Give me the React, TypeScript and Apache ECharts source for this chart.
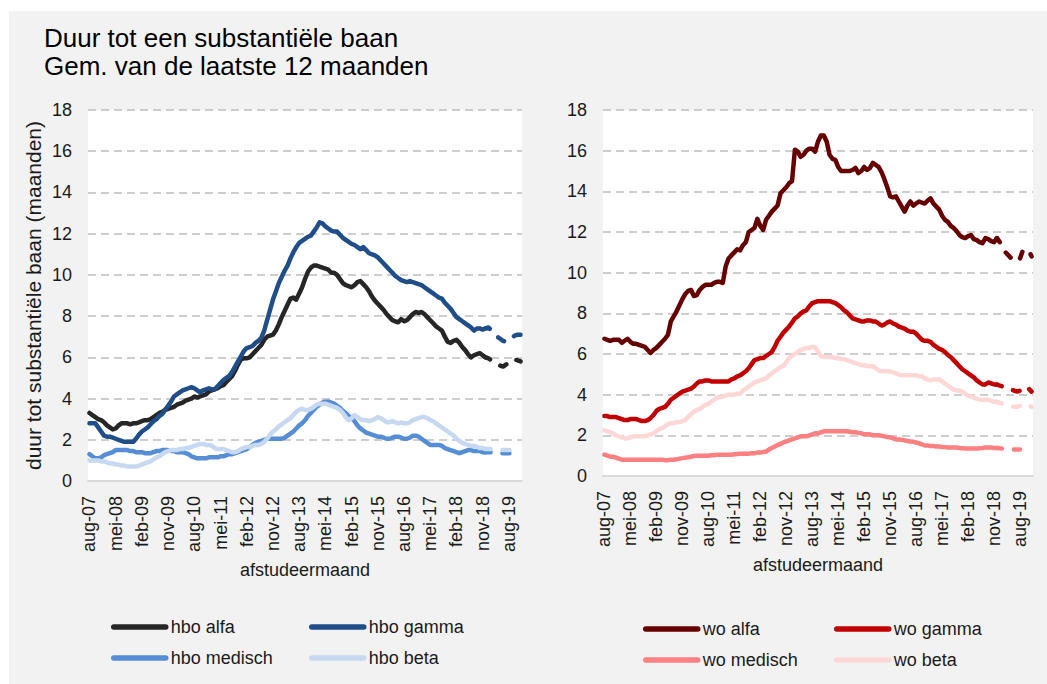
import React, { useEffect, useRef } from "react";
import * as echarts from "echarts";

const MONTH_NAMES = ["jan", "feb", "mrt", "apr", "mei", "jun", "jul", "aug", "sep", "okt", "nov", "dec"];
const START_MONTH = 7; // aug
const START_YEAR = 7; // 2007
const N_MONTHS = 149; // aug-07 .. dec-19
const DASH_FROM = 136; // dec-18: provisional figures (dashed)

const categories: string[] = [];
for (let i = 0; i < N_MONTHS; i++) {
  const m = (START_MONTH + i) % 12;
  const y = START_YEAR + Math.floor((START_MONTH + i) / 12);
  categories.push(`${MONTH_NAMES[m]}-${String(y).padStart(2, "0")}`);
}

const Y_TICKS_MAX = 18;
const Y_TICK_STEP = 2;

const hboAlfa = [
  3.3, 3.2, 3.1, 3.0, 2.95, 2.85, 2.7, 2.6, 2.5, 2.55,
  2.7, 2.8, 2.8, 2.8, 2.75, 2.8, 2.8, 2.85, 2.9, 2.95,
  2.95, 3.0, 3.1, 3.2, 3.3, 3.35, 3.45, 3.5, 3.55, 3.6,
  3.7, 3.75, 3.8, 3.9, 3.95, 4.0, 4.1, 4.05, 4.1, 4.15,
  4.2, 4.35, 4.4, 4.45, 4.5, 4.6, 4.65, 4.8, 4.95, 5.1,
  5.35, 5.65, 5.9, 5.95, 5.95, 6.0, 6.15, 6.3, 6.45, 6.6,
  6.85, 7.0, 7.05, 7.1, 7.3, 7.6, 7.95, 8.25, 8.55, 8.85,
  8.9, 8.8, 9.1, 9.4, 9.8, 10.15, 10.35, 10.45, 10.45, 10.4,
  10.35, 10.3, 10.25, 10.1, 10.1, 10.0, 9.8, 9.6, 9.5, 9.45,
  9.4, 9.5, 9.65, 9.7, 9.55, 9.4, 9.2, 8.95, 8.75, 8.6,
  8.45, 8.3, 8.1, 7.95, 7.8, 7.75, 7.7, 7.85, 7.75, 7.8,
  7.95, 8.1, 8.2, 8.15, 8.2, 8.1, 7.95, 7.8, 7.65, 7.5,
  7.4, 7.3, 7.0, 6.75, 6.7, 6.8, 6.85, 6.7, 6.5, 6.35,
  6.15, 6.0, 6.1, 6.15, 6.2, 6.1, 6.0, 5.95, 5.85, 5.75,
  5.7, 5.6, 5.55, 5.65, 5.75, 5.9, 5.9, 5.85, 5.8,
];

const hboGamma = [
  2.8, 2.8, 2.8, 2.6, 2.4, 2.2, 2.15, 2.15, 2.1, 2.05,
  2.0, 1.95, 1.9, 1.9, 1.9, 1.9, 2.05, 2.25, 2.4, 2.5,
  2.6, 2.75, 2.9, 3.0, 3.15, 3.25, 3.45, 3.65, 3.85, 4.1,
  4.2, 4.3, 4.4, 4.45, 4.5, 4.55, 4.5, 4.4, 4.3, 4.4,
  4.45, 4.5, 4.45, 4.45, 4.6, 4.75, 4.9, 5.0, 5.1, 5.3,
  5.55, 5.8, 6.05, 6.3, 6.45, 6.5, 6.55, 6.7, 6.8, 6.95,
  7.3, 7.8, 8.3, 8.8, 9.2, 9.6, 9.9, 10.2, 10.45, 10.8,
  11.1, 11.35, 11.55, 11.65, 11.75, 11.85, 11.9, 12.1, 12.3, 12.55,
  12.5, 12.35, 12.25, 12.15, 12.1, 12.1, 11.95, 11.8, 11.7, 11.6,
  11.5, 11.45, 11.35, 11.25, 11.35, 11.2, 11.05, 11.0, 10.95, 10.85,
  10.7, 10.55, 10.4, 10.25, 10.1, 9.95, 9.85, 9.75, 9.7, 9.65,
  9.7, 9.65, 9.6, 9.55, 9.5, 9.4, 9.3, 9.2, 9.1, 9.0,
  8.9, 8.85, 8.65, 8.5, 8.35, 8.15, 7.95, 7.85, 7.75, 7.65,
  7.55, 7.45, 7.3, 7.4, 7.4, 7.35, 7.4, 7.45, 7.3, 7.15,
  7.0, 6.9, 6.8, 6.75, 6.8, 6.95, 7.05, 7.1, 7.1,
];

const hboMedisch = [
  1.3, 1.2, 1.1, 1.1, 1.15, 1.25, 1.3, 1.35, 1.4, 1.5,
  1.5, 1.5, 1.5, 1.5, 1.45, 1.45, 1.4, 1.4, 1.4, 1.35,
  1.35, 1.35, 1.4, 1.45, 1.45, 1.5, 1.5, 1.5, 1.45, 1.45,
  1.4, 1.4, 1.4, 1.35, 1.3, 1.2, 1.15, 1.1, 1.1, 1.1,
  1.1, 1.15, 1.15, 1.15, 1.15, 1.2, 1.2, 1.25, 1.3, 1.3,
  1.35, 1.4, 1.45, 1.5, 1.55, 1.65, 1.75, 1.85, 1.9, 1.95,
  2.0, 2.05, 2.05, 2.05, 2.05, 2.05, 2.05, 2.1, 2.2, 2.3,
  2.4, 2.55, 2.7, 2.8, 2.95, 3.15, 3.3, 3.45, 3.6, 3.7,
  3.8, 3.85, 3.85, 3.8, 3.75, 3.65, 3.55, 3.4, 3.3, 3.15,
  3.05, 2.9, 2.7, 2.55, 2.45, 2.35, 2.3, 2.25, 2.2, 2.15,
  2.15, 2.1, 2.05, 2.05, 2.1, 2.15, 2.15, 2.1, 2.05, 2.05,
  2.1, 2.2, 2.2, 2.15, 2.05, 1.95, 1.85, 1.75, 1.75, 1.75,
  1.75, 1.7, 1.6, 1.55, 1.5, 1.45, 1.4, 1.35, 1.4, 1.45,
  1.5, 1.5, 1.45, 1.45, 1.45, 1.4, 1.4, 1.4, 1.4, 1.35,
  1.35, 1.35, 1.35, 1.35, 1.35, 1.35, 1.4, 1.4, 1.4,
];

const hboBeta = [
  1.0, 1.0, 1.0, 1.0, 0.95, 0.95, 0.9, 0.85, 0.85, 0.8,
  0.8, 0.75, 0.75, 0.7, 0.7, 0.7, 0.7, 0.75, 0.8, 0.85,
  0.9, 0.95, 1.05, 1.15, 1.2, 1.3, 1.4, 1.45, 1.5, 1.5,
  1.5, 1.55, 1.55, 1.6, 1.6, 1.65, 1.7, 1.75, 1.8, 1.8,
  1.75, 1.75, 1.7, 1.6, 1.55, 1.55, 1.55, 1.5, 1.45, 1.4,
  1.4, 1.45, 1.55, 1.6, 1.65, 1.65, 1.7, 1.75, 1.75, 1.8,
  1.9, 2.05, 2.25, 2.4, 2.5, 2.65, 2.75, 2.85, 2.95, 3.05,
  3.2, 3.35, 3.45, 3.5, 3.45, 3.45, 3.5, 3.6, 3.7, 3.75,
  3.75, 3.75, 3.7, 3.65, 3.6, 3.55, 3.45, 3.3, 3.1, 2.95,
  3.05, 3.2, 3.1, 3.0, 2.95, 2.95, 2.9, 2.95, 3.0, 3.1,
  3.05, 2.95, 2.85, 2.85, 2.9, 2.85, 2.8, 2.85, 2.8, 2.8,
  2.85, 2.95, 3.0, 3.05, 3.1, 3.1, 3.05, 2.95, 2.9, 2.8,
  2.7, 2.6, 2.5, 2.4, 2.3, 2.2, 2.05, 1.95, 1.85, 1.8,
  1.75, 1.7, 1.7, 1.65, 1.6, 1.6, 1.55, 1.55, 1.55, 1.5,
  1.5, 1.5, 1.5, 1.5, 1.5, 1.5, 1.5, 1.5, 1.5,
];

const woAlfa = [
  6.75, 6.7, 6.65, 6.7, 6.7, 6.7, 6.55, 6.65, 6.75, 6.6,
  6.5, 6.5, 6.45, 6.4, 6.35, 6.2, 6.05, 6.2, 6.3, 6.45,
  6.6, 6.75, 6.95, 7.6, 7.85, 8.1, 8.4, 8.7, 8.95, 9.1,
  9.15, 8.85, 8.9, 9.15, 9.3, 9.4, 9.4, 9.4, 9.5, 9.55,
  9.55, 9.5, 10.3, 10.7, 10.85, 11.0, 11.15, 11.1, 11.35, 11.5,
  12.0, 12.1, 12.2, 12.65, 12.3, 12.1, 12.6, 12.8, 13.0, 13.15,
  13.3, 13.9, 14.05, 14.2, 14.4, 14.5, 16.05, 15.95, 15.7, 15.8,
  16.0, 16.1, 16.1, 15.95, 16.45, 16.75, 16.75, 16.45, 15.8, 15.6,
  15.55, 15.2, 15.0, 15.0, 15.0, 15.0, 15.05, 15.15, 14.9, 15.0,
  15.2, 15.05, 15.15, 15.4, 15.3, 15.2, 14.95, 14.6, 14.2, 13.75,
  13.7, 13.75, 13.5, 13.25, 13.0, 13.3, 13.5, 13.3, 13.4, 13.5,
  13.45, 13.4, 13.55, 13.65, 13.4, 13.25, 13.1, 12.8, 12.6, 12.5,
  12.3, 12.2, 12.05, 11.85, 11.75, 11.7, 11.8, 11.85, 11.65, 11.6,
  11.5, 11.45, 11.7, 11.65, 11.55, 11.5, 11.7, 11.5, 11.3, 11.0,
  10.85, 10.7, 10.6, 10.55, 10.7, 11.1, 11.15, 11.1, 10.8,
];

const woGamma = [
  2.95, 2.95, 2.9, 2.9, 2.9, 2.85, 2.8, 2.75, 2.75, 2.8,
  2.8, 2.8, 2.75, 2.7, 2.7, 2.75, 2.85, 3.0, 3.2, 3.3,
  3.35, 3.4, 3.55, 3.75, 3.85, 3.95, 4.05, 4.15, 4.2, 4.25,
  4.3, 4.4, 4.55, 4.65, 4.65, 4.7, 4.7, 4.65, 4.65, 4.65,
  4.65, 4.65, 4.65, 4.65, 4.75, 4.8, 4.9, 4.95, 5.05, 5.15,
  5.3, 5.5, 5.7, 5.75, 5.8, 5.8, 5.9, 6.0, 6.1, 6.35,
  6.65, 6.85, 7.05, 7.2, 7.35, 7.55, 7.75, 7.85, 8.0, 8.1,
  8.15, 8.35, 8.5, 8.55, 8.6, 8.6, 8.6, 8.6, 8.6, 8.55,
  8.5, 8.4, 8.3, 8.15, 8.05, 7.9, 7.75, 7.7, 7.65, 7.6,
  7.6, 7.65, 7.65, 7.6, 7.6, 7.5, 7.4, 7.45, 7.55, 7.6,
  7.5, 7.45, 7.35, 7.3, 7.25, 7.15, 7.1, 7.1, 7.0, 6.85,
  6.7, 6.65, 6.65, 6.6, 6.45, 6.35, 6.25, 6.2, 6.1, 5.95,
  5.85, 5.7, 5.55, 5.4, 5.25, 5.15, 5.05, 4.95, 4.85, 4.7,
  4.6, 4.5, 4.5, 4.6, 4.55, 4.5, 4.5, 4.45, 4.4, 4.35,
  4.3, 4.25, 4.2, 4.15, 4.2, 4.35, 4.4, 4.3, 4.15,
];

const woMedisch = [
  1.05, 1.0, 0.95, 0.95, 0.9, 0.85, 0.8, 0.8, 0.8, 0.8,
  0.8, 0.8, 0.8, 0.8, 0.8, 0.8, 0.8, 0.8, 0.8, 0.8,
  0.8, 0.78, 0.78, 0.8, 0.8, 0.82, 0.85, 0.88, 0.9, 0.92,
  0.95, 0.98, 1.0, 1.0, 1.0, 1.0, 1.0, 1.02, 1.02, 1.05,
  1.05, 1.05, 1.05, 1.05, 1.05, 1.07, 1.08, 1.1, 1.1, 1.1,
  1.1, 1.12, 1.12, 1.15, 1.15, 1.18, 1.2, 1.3, 1.38, 1.45,
  1.52, 1.58, 1.65, 1.7, 1.75, 1.8, 1.85, 1.9, 1.95, 1.95,
  1.95, 2.0, 2.05, 2.1, 2.1, 2.15, 2.2, 2.2, 2.2, 2.2,
  2.2, 2.2, 2.2, 2.2, 2.2, 2.18, 2.15, 2.15, 2.12, 2.1,
  2.05, 2.05, 2.05, 2.0, 2.0, 2.0, 1.98, 1.95, 1.92, 1.9,
  1.85, 1.8, 1.8, 1.78, 1.75, 1.72, 1.7, 1.68, 1.65, 1.6,
  1.55, 1.5, 1.5, 1.48, 1.47, 1.45, 1.45, 1.43, 1.42, 1.4,
  1.4, 1.4, 1.4, 1.38, 1.37, 1.35, 1.35, 1.35, 1.35, 1.35,
  1.37, 1.38, 1.4, 1.4, 1.4, 1.38, 1.38, 1.36, 1.35, 1.33,
  1.32, 1.3, 1.3, 1.3, 1.3, null, null, null, null,
];

const woBeta = [
  2.25, 2.2, 2.15, 2.1, 2.0, 1.95, 1.9, 1.85, 1.85, 1.9,
  1.95, 1.95, 1.95, 1.95, 1.95, 2.0, 2.05, 2.1, 2.2, 2.3,
  2.35, 2.45, 2.55, 2.6, 2.6, 2.65, 2.65, 2.7, 2.75, 2.9,
  3.05, 3.15, 3.25, 3.3, 3.4, 3.5, 3.55, 3.65, 3.75, 3.85,
  3.9, 3.9, 3.95, 4.0, 4.0, 4.0, 4.05, 4.05, 4.2, 4.3,
  4.4, 4.5, 4.6, 4.65, 4.7, 4.75, 4.8, 4.95, 5.05, 5.15,
  5.25, 5.35, 5.4, 5.6, 5.8, 5.9, 6.0, 6.1, 6.2, 6.25,
  6.3, 6.3, 6.35, 6.35, 6.1, 5.9, 5.85, 5.85, 5.85, 5.85,
  5.8, 5.8, 5.75, 5.75, 5.7, 5.65, 5.6, 5.55, 5.5, 5.45,
  5.45, 5.4, 5.4, 5.4, 5.3, 5.2, 5.15, 5.15, 5.15, 5.15,
  5.1, 5.05, 5.0, 4.95, 4.95, 4.95, 4.95, 4.95, 4.95, 4.9,
  4.9, 4.8, 4.75, 4.7, 4.75, 4.75, 4.75, 4.65, 4.55, 4.45,
  4.35, 4.25, 4.2, 4.2, 4.15, 4.05, 3.95, 3.9, 3.85, 3.8,
  3.75, 3.75, 3.75, 3.75, 3.7, 3.65, 3.65, 3.6, 3.55, 3.5,
  3.45, 3.4, 3.4, 3.4, 3.45, 3.5, 3.55, 3.5, 3.4,
];

const hboNames = ["hbo alfa", "hbo gamma", "hbo medisch", "hbo beta"];
const woNames = ["wo alfa", "wo gamma", "wo medisch", "wo beta"];
const hboColors = ["#262626", "#1f4e89", "#558ed5", "#c6d9f1"];
const woColors = ["#660000", "#c00000", "#ff8080", "#ffd7d7"];

const FONT = "'Liberation Sans', Arial, Helvetica, sans-serif";
const TEXT_COLOR = "#1a1a1a";

function lineSeries(name: string, values: (number | null)[], color: string, idx: number) {
  const solid = values.map((v, i) => (i <= DASH_FROM ? v : null));
  const dashed = values.map((v, i) => (i >= DASH_FROM ? v : null));
  const base = {
    type: "line",
    name,
    xAxisIndex: idx,
    yAxisIndex: idx,
    symbol: "none",
    showSymbol: false,
    connectNulls: false,
    emphasis: { disabled: true },
    color,
  };
  return [
    { ...base, data: solid, lineStyle: { width: 4.5, color, cap: "round", join: "round" } },
    {
      ...base,
      data: dashed,
      lineStyle: { width: 4.5, color, cap: "round", join: "round", type: [7, 12], dashOffset: 2 },
    },
  ];
}

function legendCol(data: string[], left: number, top: number) {
  return {
    data,
    orient: "vertical",
    left,
    top,
    padding: 0,
    itemWidth: 52,
    itemHeight: 18,
    itemGap: 13,
    selectedMode: false,
    itemStyle: { color: "transparent", borderColor: "transparent", borderWidth: 0, opacity: 0 },
    lineStyle: { width: 5.5, cap: "round" },
    textStyle: { fontSize: 18, color: TEXT_COLOR, fontFamily: FONT, lineHeight: 18 },
  };
}

function xAxisFor(gridIndex: number) {
  return {
    type: "category",
    gridIndex,
    data: categories,
    boundaryGap: true,
    name: "afstudeermaand",
    nameLocation: "middle",
    nameGap: 80,
    nameTextStyle: { fontSize: 18, color: TEXT_COLOR, fontFamily: FONT },
    axisLine: { show: true, lineStyle: { color: "#d9d9d9", width: 2 } },
    axisTick: { show: false },
    axisLabel: {
      interval: 8,
      rotate: 90,
      margin: 15,
      fontSize: 18,
      color: TEXT_COLOR,
      fontFamily: FONT,
    },
    splitLine: { show: false },
  };
}

function yAxisFor(gridIndex: number, withName: boolean) {
  return {
    type: "value",
    gridIndex,
    min: 0,
    max: Y_TICKS_MAX,
    interval: Y_TICK_STEP,
    name: withName ? "duur tot substantiële baan (maanden)" : "",
    nameLocation: "middle",
    nameGap: 44,
    nameTextStyle: { fontSize: 21, color: TEXT_COLOR, fontFamily: FONT },
    axisLine: { show: false },
    axisTick: { show: false },
    axisLabel: { fontSize: 18, color: TEXT_COLOR, fontFamily: FONT, margin: 16 },
    splitLine: { show: true, lineStyle: { color: "#bfbfbf", width: 1.5, type: [8, 5] } },
  };
}

export default function App() {
  const ref = useRef<HTMLDivElement>(null);

  useEffect(() => {
    document.body.style.margin = "0";
    if (!ref.current) return;
    const chart = echarts.init(ref.current, undefined, { renderer: "svg" });

    const series: any[] = [];
    const hboData = [hboAlfa, hboGamma, hboMedisch, hboBeta];
    const woData = [woAlfa, woGamma, woMedisch, woBeta];
    hboNames.forEach((n, k) => series.push(...lineSeries(n, hboData[k], hboColors[k], 0)));
    woNames.forEach((n, k) => series.push(...lineSeries(n, woData[k], woColors[k], 1)));

    chart.setOption({
      animation: false,
      backgroundColor: "#f2f2f2",
      textStyle: { fontFamily: FONT },
      title: {
        text: "Duur tot een substantiële baan\nGem. van de laatste 12 maanden",
        left: 44,
        top: 24,
        padding: 0,
        textStyle: { fontSize: 26, fontWeight: "normal", color: "#000", lineHeight: 28, fontFamily: FONT },
      },
      graphic: [
        { type: "rect", left: 0, top: 0, shape: { width: 1047, height: 11 }, style: { fill: "#ffffff" }, silent: true },
        { type: "rect", left: 0, top: 0, shape: { width: 9, height: 684 }, style: { fill: "#ffffff" }, silent: true },
      ],
      grid: [
        { left: 88, top: 110, width: 434, height: 371, show: true, backgroundColor: "#ffffff", borderWidth: 0 },
        { left: 603, top: 110, width: 430, height: 366, show: true, backgroundColor: "#ffffff", borderWidth: 0 },
      ],
      xAxis: [xAxisFor(0), xAxisFor(1)],
      yAxis: [yAxisFor(0, true), yAxisFor(1, false)],
      legend: [
        legendCol(["hbo alfa", "hbo medisch"], 111, 618),
        legendCol(["hbo gamma", "hbo beta"], 309, 618),
        legendCol(["wo alfa", "wo medisch"], 643, 620),
        legendCol(["wo gamma", "wo beta"], 834, 620),
      ],
      tooltip: { show: false },
      series,
    });

    return () => chart.dispose();
  }, []);

  return (
    <div
      ref={ref}
      style={{ position: "absolute", left: 0, top: 0, width: 1047, height: 684 }}
    />
  );
}
